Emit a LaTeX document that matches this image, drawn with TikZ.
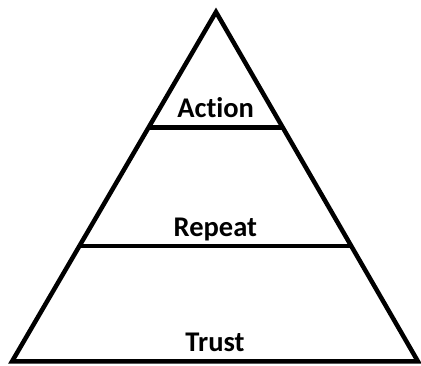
\documentclass[tikz,border=0pt]{standalone}
\usepackage{fontspec}
\setmainfont{Carlito}[Ligatures=NoCommon]
\usetikzlibrary{calc}
\tikzset{
    level edge/.style = {
        draw=black,
        line width=4.5pt,
        line join=miter,
        },
    level label/.style = {
        font=\fontsize{28.5}{32}\selectfont\bfseries,
        anchor=base,
        inner sep=0pt,
        },
}

\begin{document}
\begin{tikzpicture}[x=1pt,y=1pt]
            \useasboundingbox (0,0) rectangle (421,366);

            \coordinate (top) at (216,354);
            \coordinate (left) at (12,4.5);
            \coordinate (right) at (418,4.5);

            % cut points a third and two thirds of the way down
            \coordinate (l1) at ($(top)!0.33!(left)$);
            \coordinate (r1) at ($(top)!0.33!(right)$);
            \coordinate (l2) at ($(top)!0.67!(left)$);
            \coordinate (r2) at ($(top)!0.67!(right)$);

            \draw[level edge] (top) -- (left) -- (right) -- cycle;
            \draw[level edge] (l1) -- (r1);
            \draw[level edge] (l2) -- (r2);

            \node[level label] (action) at ($(l1)!0.5!(r1) + (0,10)$) {Action};
            \node[level label] (repeat) at ($(l2)!0.5!(r2) + (0,10)$) {Repeat};
            \node[level label] (trust) at ($(left)!0.5!(right) + (0,10)$) {Trust};
        \end{tikzpicture}
\end{document}
